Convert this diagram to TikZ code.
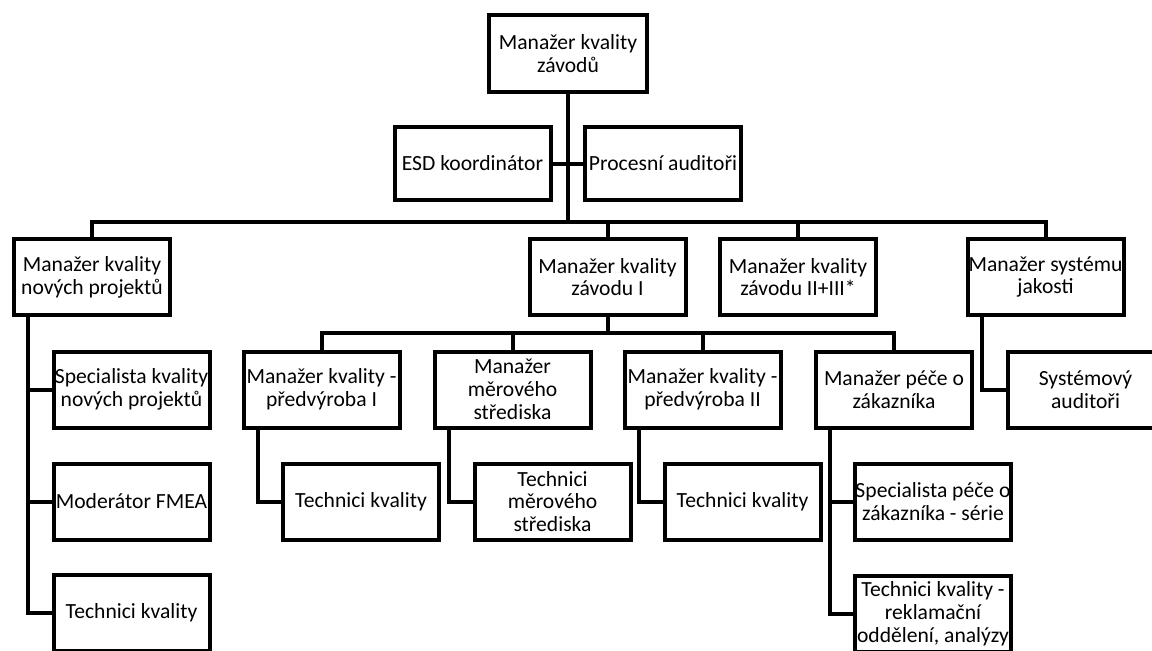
\documentclass[tikz,border=0pt]{standalone}
\usepackage{fontspec}
\setmainfont{Carlito}
\begin{document}
\begin{tikzpicture}[x=0.75pt,y=-0.75pt,
  box/.style={draw, line width=3pt, minimum width=117pt, minimum height=57pt,
    inner sep=0pt, align=center, fill=white,
    font=\fontsize{16.2}{17.1}\selectfont},
  link/.style={line width=3pt},
  tap/.style={xshift=12pt}]
\clip (0,0) rectangle (1152,650);

% top level
\node[box, minimum height=58pt, minimum width=118.5pt] (top) at (568,53.5) {Manažer kvality\\závodů};
\node[box, minimum height=54.75pt] (esd) at (472.5,163.5) {ESD koordinátor};
\node[box, minimum height=54.75pt] (proc) at (663,163.5) {Procesní auditoři};

% second level
\node[box] (npm) at (92,277) {Manažer kvality\\nových projektů};
\node[box] (z1) at (607.5,277) {Manažer kvality\\závodu I};
\node[box] (z23) at (798,277) {Manažer kvality\\závodu II+III*};
\node[box] (sys) at (1045.5,277) {Manažer systému\\jakosti};

% new projects branch
\node[box] (spec) at (131.5,389.5) {Specialista kvality\\nových projektů};
\node[box] (mod) at (131.5,501.5) {Moderátor FMEA};
\node[box] (tech1) at (131.5,613) {Technici kvality};

% plant I branch
\node[box] (pv1) at (321.5,389.5) {Manažer kvality -\\předvýroba I};
\node[box] (mer) at (512.5,389.5) {Manažer\\měrového\\střediska};
\node[box] (pv2) at (702.5,389.5) {Manažer kvality -\\předvýroba II};
\node[box] (pece) at (894,389.5) {Manažer péče o\\zákazníka};
\node[box] (tk1) at (361,501.5) {Technici kvality};
\node[box] (tmer) at (552.5,501.5) {Technici\\měrového\\střediska};
\node[box] (tk2) at (742.5,501.5) {Technici kvality};
\node[box] (specpece) at (933,501.5) {Specialista péče o\\zákazníka - série};
\node[box] (techrek) at (933,614) {Technici kvality -\\reklamační\\oddělení, analýzy};

% quality system branch
\node[box] (sysaud) at (1085.5,389.5) {Systémový\\auditoři};

% connectors
\coordinate (hub) at (568,222);
\coordinate (hub2) at (607.5,333);
\draw[link] (top.south) -- (hub);
\draw[link] (esd.east) -- (proc.west);
\draw[link] (npm.north) |- (hub) -| (sys.north);
\draw[link] (z1.north) -- (z1.north |- hub);
\draw[link] (z23.north) -- (z23.north |- hub);

\draw[link] (z1.south) -- (hub2);
\draw[link] (pv1.north) |- (hub2) -| (pece.north);
\draw[link] (mer.north) -- (mer.north |- hub2);
\draw[link] (pv2.north) -- (pv2.north |- hub2);

\draw[link] ([tap]npm.south west) |- (spec.west);
\draw[link] ([tap]npm.south west) |- (mod.west);
\draw[link] ([tap]npm.south west) |- (tech1.west);

\draw[link] ([tap]pv1.south west) |- (tk1.west);
\draw[link] ([tap]mer.south west) |- (tmer.west);
\draw[link] ([tap]pv2.south west) |- (tk2.west);
\draw[link] ([tap]pece.south west) |- (specpece.west);
\draw[link] ([tap]pece.south west) |- (techrek.west);

\draw[link] ([tap]sys.south west) |- (sysaud.west);
\end{tikzpicture}
\end{document}
